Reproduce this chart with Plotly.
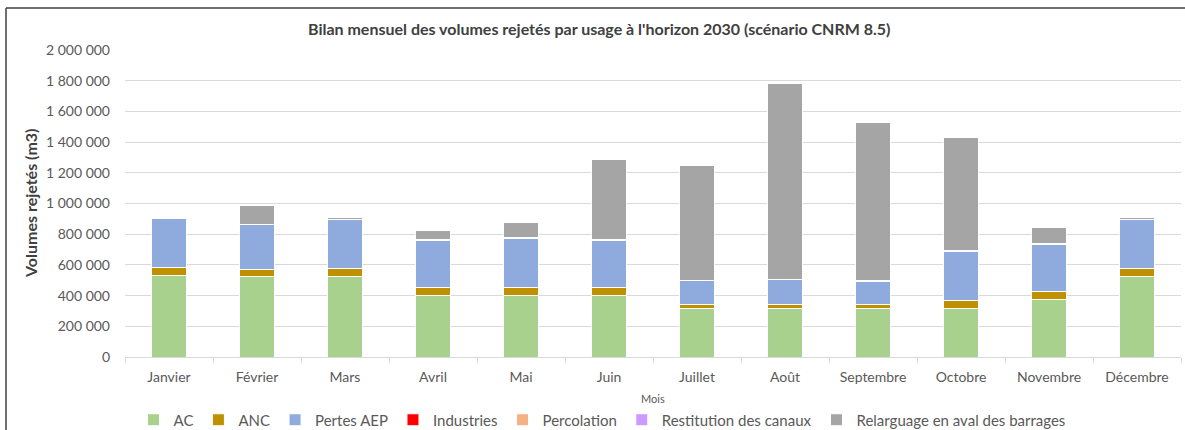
import plotly.graph_objects as go

# Monthly discharged volumes by use (m3), 2030 horizon, CNRM 8.5 scenario
mois = ["Janvier", "Février", "Mars", "Avril", "Mai", "Juin", "Juillet",
        "Août", "Septembre", "Octobre", "Novembre", "Décembre"]

ac = [528000, 522000, 522000, 400000, 400000, 400000, 315000, 315000,
      315000, 315000, 374000, 522000]
anc = [54000, 47000, 54000, 52000, 52000, 52000, 26000, 26000,
       26000, 55000, 52000, 54000]
pertes_aep = [318000, 292000, 322000, 309000, 322000, 309000, 157000,
              161000, 153000, 319000, 309000, 319000]
industries = [0, 0, 0, 0, 0, 0, 0, 0, 0, 0, 0, 0]
percolation = [0, 0, 0, 0, 0, 0, 0, 0, 0, 0, 0, 0]
restitution = [0, 3000, 0, 3000, 3000, 3000, 3000, 3000, 3000, 2000, 3000, 0]
relarguage = [2000, 121000, 8000, 60000, 101000, 525000, 744000, 1280000,
              1033000, 739000, 108000, 16000]

y_ticks = [0, 200000, 400000, 600000, 800000, 1000000, 1200000, 1400000,
           1600000, 1800000, 2000000]
y_tick_labels = ["0", "200 000", "400 000", "600 000", "800 000", "1 000 000",
                 "1 200 000", "1 400 000", "1 600 000", "1 800 000", "2 000 000"]

series = [
    ("AC", ac, "#A9D18E"),
    ("ANC", anc, "#BF9000"),
    ("Pertes AEP", pertes_aep, "#8FAADC"),
    ("Industries", industries, "#FF0000"),
    ("Percolation", percolation, "#F4B183"),
    ("Restitution des canaux", restitution, "#CC99FF"),
    ("Relarguage en aval des barrages", relarguage, "#A5A5A5"),
]

FONT = "Lato"
W, H = 1185, 430
L, R, T, B = 125, 4, 50, 73
pw, ph = W - L - R, H - T - B


def px_x(px):
    return (px - L) / pw


def px_y(py):
    return (H - B - py) / ph


fig = go.Figure()
for name, vals, color in series:
    fig.add_trace(go.Bar(
        x=mois, y=vals, name=name,
        marker=dict(color=color, line=dict(color="#FFFFFF", width=1)),
    ))

fig.update_layout(
    width=W, height=H,
    margin=dict(l=L, r=R, t=T, b=B, pad=0, autoexpand=False),
    barmode="stack",
    bargap=0.61,
    paper_bgcolor="white",
    plot_bgcolor="white",
    font=dict(family=FONT, color="#595959", size=14),
    showlegend=True,
    legend=dict(
        orientation="h", x=px_x(602), xanchor="center",
        y=px_y(420), yanchor="middle",
        font=dict(size=15, color="#595959"),
        itemwidth=30, traceorder="normal",
        bgcolor="rgba(0,0,0,0)",
    ),
    xaxis=dict(
        showgrid=False,
        showline=True, linecolor="#D9D9D9", linewidth=1,
        ticks="outside", tickson="boundaries", ticklen=5,
        tickcolor="#D9D9D9",
        ticklabelstandoff=7,
        tickfont=dict(size=14, color="#595959"),
        fixedrange=True,
    ),
    yaxis=dict(
        range=[0, 2000000],
        tickvals=y_ticks, ticktext=y_tick_labels,
        showgrid=True, gridcolor="#D9D9D9", gridwidth=1,
        zeroline=False, showline=False, ticks="",
        ticklabelstandoff=14,
        tickfont=dict(size=14, color="#595959"),
        fixedrange=True,
    ),
)

# Title, axis titles
fig.add_annotation(
    text="<b>Bilan mensuel des volumes rejetés par usage à l'horizon 2030 (scénario CNRM 8.5)</b>",
    x=px_x(599), y=px_y(29), xref="paper", yref="paper",
    xanchor="center", yanchor="middle", showarrow=False,
    font=dict(size=16, color="#404040", family=FONT),
)
fig.add_annotation(
    text="<b>Volumes rejetés (m3)</b>",
    x=px_x(30), y=px_y(204), xref="paper", yref="paper",
    xanchor="center", yanchor="middle", showarrow=False, textangle=-90,
    font=dict(size=16, color="#404040", family=FONT),
)
fig.add_annotation(
    text="Mois",
    x=px_x(653), y=px_y(398), xref="paper", yref="paper",
    xanchor="center", yanchor="middle", showarrow=False,
    font=dict(size=11, color="#595959", family=FONT),
)

# Chart frame (top and left edges)
fig.add_shape(type="line", xref="paper", yref="paper",
              x0=px_x(6), x1=px_x(W + 2), y0=px_y(8), y1=px_y(8),
              line=dict(color="#404040", width=1.5))
fig.add_shape(type="line", xref="paper", yref="paper",
              x0=px_x(6), x1=px_x(6), y0=px_y(8), y1=px_y(H + 2),
              line=dict(color="#404040", width=1.5))

fig.write_html("out.html")
